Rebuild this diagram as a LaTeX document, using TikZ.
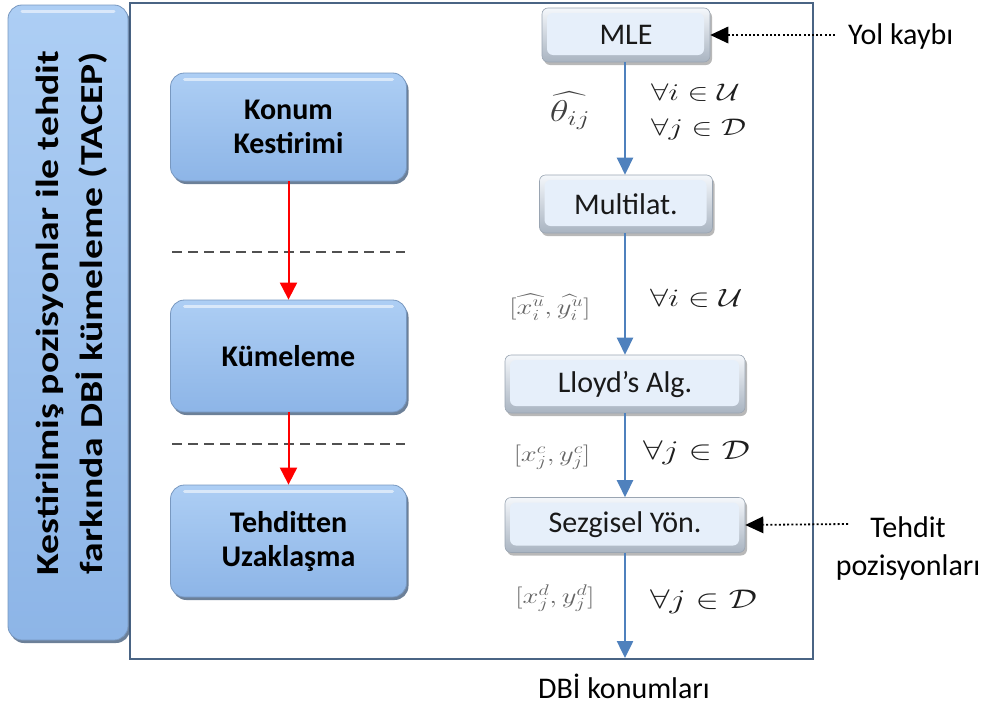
\RequirePackage{fix-cm}
\documentclass[tikz,border=0pt]{standalone}
\usepackage{exscale}
\usepackage{fontspec}
\setmainfont{Carlito}
\usetikzlibrary{arrows.meta,shadows}

\definecolor{framecol}{HTML}{4A6484}
\definecolor{lbtop}{HTML}{ADCEF4}
\definecolor{lbbot}{HTML}{8DB5E7}
\definecolor{lbedge}{HTML}{7898C0}
\definecolor{lbshadow}{HTML}{3B5576}
\definecolor{rbtop}{HTML}{F4F7FB}
\definecolor{rbbot}{HTML}{A9B4C1}
\definecolor{rbface}{HTML}{E6EFFA}
\definecolor{rbedge}{HTML}{9AA5B2}
\definecolor{flowblue}{HTML}{4F81BD}
\definecolor{mathdark}{HTML}{1E1E1E}
\definecolor{mathgrey}{HTML}{666666}
\definecolor{dashgrey}{HTML}{505050}

% horizontal stretch used for the math annotations
\newcommand\hstretch[1]{\scalebox{1.3}[1]{#1}}

\begin{document}
\begin{tikzpicture}[x=1pt,y=-1pt,
  lbox/.style={draw=lbedge, line width=0.8pt, rounded corners=14pt,
    top color=lbtop, bottom color=lbbot, inner sep=0pt,
    drop shadow={shadow xshift=2pt, shadow yshift=-3pt, fill=lbshadow, opacity=0.75},
    path picture={\draw[white, opacity=0.55, line width=3pt, line cap=round]
      ([shift={(14pt,-6pt)}]path picture bounding box.north west) --
      ([shift={(-14pt,-6pt)}]path picture bounding box.north east);},
    font=\fontsize{30}{36}\selectfont\bfseries, text=black, align=center},
  rbox/.style={draw=rbedge, line width=0.6pt, rounded corners=6pt,
    top color=rbtop, bottom color=rbbot, inner sep=0pt,
    drop shadow={shadow xshift=2pt, shadow yshift=-3pt, fill=black, opacity=0.28},
    path picture={\fill[rbface]
      ([shift={(5pt,-5pt)}]path picture bounding box.north west) rectangle
      ([shift={(-6pt,7pt)}]path picture bounding box.south east);},
    font=\fontsize{30}{34}\selectfont, text=black!90},
  flow/.style={draw=flowblue, line width=2.5pt,
    -{Triangle[length=17pt,width=16pt,fill=flowblue]}},
  redflow/.style={draw=red, line width=2pt,
    -{Triangle[length=17pt,width=17pt,fill=red]}},
  hint/.style={draw=black, line width=1.8pt, dash pattern=on 2pt off 2.2pt,
    -{Triangle[length=18pt,width=17pt,fill=black,line width=0pt]}},
  sep/.style={draw=dashgrey, line width=1.4pt, dash pattern=on 10pt off 6pt},
  plain/.style={font=\fontsize{30}{38}\selectfont, text=black, inner sep=2pt},
  mathr/.style={text=mathdark, inner sep=0pt},
  mathl/.style={text=mathgrey, inner sep=0pt}
]
\useasboundingbox (0,0) rectangle (992,704);

% outer frame of the flow
\draw[framecol, line width=2pt] (130,3) rectangle (813,659);

% tall title box on the left
\node[lbox, minimum width=120pt, minimum height=635pt] (title) at (68,322.5) {};
\node[rotate=90, inner sep=0pt, font=\fontsize{32}{44}\selectfont\bfseries]
  (titletext) at (72,313)
  {\scalebox{1.24}[1]{\begin{tabular}{@{}c@{}}Kestirilmiş pozisyonlar ile tehdit\\
   farkında DBİ kümeleme (TACEP)\end{tabular}}};

% the three stages
\node[lbox, minimum width=236pt, minimum height=108pt] (konum) at (288.5,127)
  {Konum\\[-2pt]Kestirimi};
\node[lbox, minimum width=236pt, minimum height=112pt] (kume) at (288.5,356)
  {Kümeleme};
\node[lbox, minimum width=236pt, minimum height=112pt] (uzak) at (288.5,541)
  {Tehditten\\[-2pt]Uzaklaşma};

\draw[sep] (172,252) -- (405,252);
\draw[sep] (172,444) -- (405,444);

\draw[redflow] (konum.south) -- (kume.north);
\draw[redflow] (kume.south) -- (uzak.north);

% algorithm chain
\node[rbox, minimum width=168pt, minimum height=54pt] (mle) at (626,35) {MLE};
\node[rbox, minimum width=173pt, minimum height=58pt] (multi) at (626,204) {Multilat.};
\node[rbox, minimum width=240pt, minimum height=58pt] (lloyd) at (625,384) {Lloyd’s Alg.};
\node[rbox, minimum width=240pt, minimum height=55pt] (sezg) at (625,525) {Sezgisel Yön.};
\coordinate (out) at (625,658);

\draw[flow] (mle.south -| 625,0) -- (multi.north -| 625,0);
\draw[flow] (multi.south -| 625,0) -- (lloyd.north -| 625,0);
\draw[flow] (lloyd.south) -- (sezg.north);
\draw[flow] (sezg.south) -- (out);

% annotations on the chain
\node[text=black!75, inner sep=0pt, font=\fontsize{30}{34}\selectfont] (theta) at (570,111)
  {\hstretch{$\widehat{\theta_{ij}}$}};
\node[mathr, anchor=west, font=\fontsize{24}{28}\selectfont] (forallA) at (651,93)
  {\hstretch{$\forall i\in\mathcal{U}$}};
\node[mathr, anchor=west, font=\fontsize{24}{28}\selectfont] (forallB) at (651,129)
  {\hstretch{$\forall j\in\mathcal{D}$}};

\node[mathl, font=\fontsize{22}{26}\selectfont] (posu) at (550,307)
  {\hstretch{$[\widehat{x_i^u},\widehat{y_i^u}]$}};
\node[mathr, anchor=west, font=\fontsize{25}{28}\selectfont] (forallC) at (650,298)
  {\hstretch{$\forall i\in\mathcal{U}$}};

\node[mathl, font=\fontsize{22}{26}\selectfont] (posc) at (552,457)
  {\hstretch{$[x_j^c,y_j^c]$}};
\node[mathr, anchor=west, font=\fontsize{27}{30}\selectfont] (forallD) at (643,453)
  {\hstretch{$\forall j\in\mathcal{D}$}};

\node[mathl, font=\fontsize{22}{26}\selectfont] (posd) at (555,598)
  {\hstretch{$[x_j^d,y_j^d]$}};
\node[mathr, anchor=west, font=\fontsize{27}{30}\selectfont] (forallE) at (650,602)
  {\hstretch{$\forall j\in\mathcal{D}$}};

% external inputs and output
\node[plain, anchor=west] (yol) at (846,37) {Yol kaybı};
\coordinate (yolsrc) at (835,35);
\draw[hint] (yolsrc) -- (mle.east);

\node[plain, align=center] (tehdit) at (908,548) {Tehdit\\pozisyonları};
\coordinate (tehditsrc) at (848,524);
\draw[hint] (tehditsrc) -- (sezg.east);

\node[plain] (dbi) at (624,686) {DBİ konumları};
\end{tikzpicture}
\end{document}
